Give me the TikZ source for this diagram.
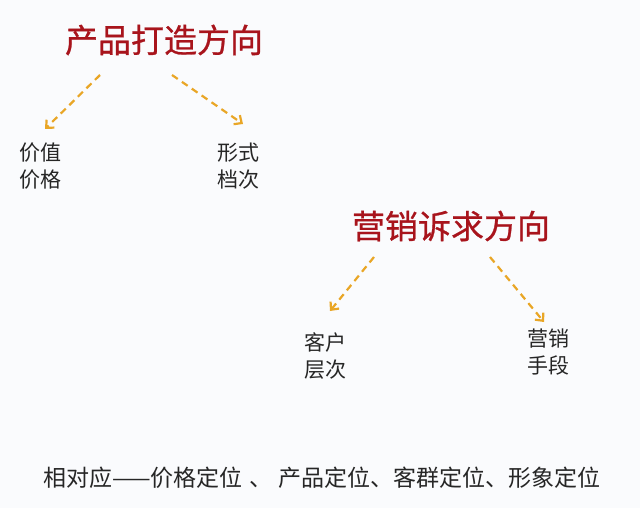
\documentclass[tikz,border=0pt]{standalone}
\usepackage{fontspec}
\newfontfamily\cjk{Noto Sans CJK SC}
\newfontfamily\cjkhead[FakeBold=0.8]{Noto Sans CJK SC}
\usepackage{tikz}
\usetikzlibrary{positioning,arrows.meta}
\definecolor{titlered}{HTML}{A8141C}
\definecolor{arroworange}{HTML}{E9A626}
\definecolor{bgpaper}{HTML}{FAFBFD}
\tikzset{
  heading/.style={font=\cjkhead\fontsize{33}{38}\selectfont, text=titlered, inner sep=0pt},
  leaf/.style={font=\cjk\fontsize{21}{27}\selectfont, align=left, inner sep=0pt, text=black!85},
  link/.style={draw=arroworange, line width=2.2pt, dash pattern=on 7pt off 5pt, -{Straight Barb[length=6pt,width=11pt]}}
}
\begin{document}
\begin{tikzpicture}[x=1pt,y=-1pt]
	  % Frame
	  \fill[bgpaper] (0,0) rectangle (640,508);
	  \useasboundingbox (0,0) rectangle (640,508);

	  % Define nodes
	  \node[heading]             (P) at (164,40)  {产品打造方向};
	  \node[leaf, anchor=west]   (V) at (19,166)  {价值\\价格};
	  \node[leaf, anchor=west]   (F) at (217,166) {形式\\档次};
	  \node[heading]             (M) at (451,226) {营销诉求方向};
	  \node[leaf, anchor=west]   (C) at (304,356) {客户\\层次};
	  \node[leaf, anchor=west]   (S) at (527,352) {营销\\手段};
	  \node[font=\cjk\fontsize{23}{26}\selectfont, text=black!85, inner sep=0pt]
	        (R) at (322,478) {相对应——价格定位\;、\;产品定位、客群定位、形象定位};

	  % Anchor points of the arrows
	  \coordinate (p1) at (100,75);  \coordinate (v1) at (45,129);
	  \coordinate (p2) at (172,75);  \coordinate (f1) at (243,124);
	  \coordinate (m1) at (374,257); \coordinate (c1) at (330,311);
	  \coordinate (m2) at (490,257); \coordinate (s1) at (544,322);

	  % Connect the nodes
	  \draw[link] (p1) -- (v1);
	  \draw[link] (p2) -- (f1);
	  \draw[link] (m1) -- (c1);
	  \draw[link] (m2) -- (s1);
\end{tikzpicture}
\end{document}
